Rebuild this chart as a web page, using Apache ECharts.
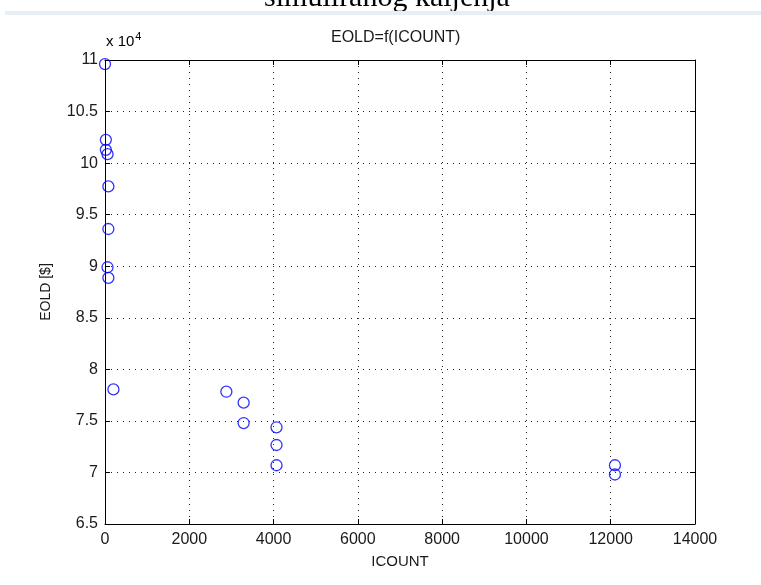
<!DOCTYPE html>
<html>
<head>
<meta charset="utf-8">
<script src="https://cdn.jsdelivr.net/npm/echarts@6/dist/echarts.min.js"></script>
<style>
  html, body { margin: 0; padding: 0; background: #fff; }
  #chart { width: 761px; height: 585px; }
</style>
</head>
<body>
<div id="chart"></div>
<script>
// values
const icount = [0, 20, 20, 60, 80, 80, 60, 80, 200, 2880, 3290, 3290, 4070, 4070, 4070, 12100, 12100]
const eold = [109600, 102260, 101290, 100870, 97740, 93610, 89900, 88870, 78050, 77830, 76770, 74790, 74380, 72660, 70700, 70700, 69800]
const xTicks = { min: 0, max: 14000, step: 2000 }
const yTicks = { min: 65000, max: 110000, step: 5000 }

const points = icount.map((x, i) => [x, eold[i]])

const FONT = 'Liberation Sans, Arial, sans-serif'
const INK = '#1a1a1a'

const boxAxis = {
  axisLine: { show: true, onZero: false, lineStyle: { color: '#000', width: 1 } },
  axisTick: { show: true, inside: true, length: 5, lineStyle: { color: '#000' } },
  axisLabel: { show: false },
  splitLine: { show: false }
}

const option = {
  backgroundColor: '#fff',
  animation: false,
  title: {
    text: 'EOLD=f(ICOUNT)',
    left: 331,
    top: 30,
    padding: 0,
    textStyle: { fontFamily: FONT, fontSize: 16, fontWeight: 'normal', color: INK }
  },
  grid: { left: 105, top: 60, width: 590, height: 464 },
  xAxis: [
    {
      type: 'value',
      min: xTicks.min,
      max: xTicks.max,
      interval: xTicks.step,
      name: 'ICOUNT',
      nameLocation: 'middle',
      nameGap: 30,
      nameTextStyle: { fontFamily: FONT, fontSize: 15, color: INK },
      axisLine: { show: true, onZero: false, lineStyle: { color: '#000', width: 1 } },
      axisTick: { show: true, inside: true, length: 5, lineStyle: { color: '#000' } },
      axisLabel: { fontFamily: FONT, fontSize: 16, color: INK, margin: 8, formatter: v => String(v) },
      splitLine: { show: true, lineStyle: { color: '#222', width: 1, type: [1, 5] } }
    },
    Object.assign({ type: 'value', position: 'top', min: xTicks.min, max: xTicks.max, interval: xTicks.step }, boxAxis)
  ],
  yAxis: [
    {
      type: 'value',
      min: yTicks.min,
      max: yTicks.max,
      interval: yTicks.step,
      name: 'EOLD [$]',
      nameLocation: 'middle',
      nameGap: 52,
      nameTextStyle: { fontFamily: FONT, fontSize: 14, color: INK },
      axisLine: { show: true, onZero: false, lineStyle: { color: '#000', width: 1 } },
      axisTick: { show: true, inside: true, length: 5, lineStyle: { color: '#000' } },
      axisLabel: {
        fontFamily: FONT, fontSize: 16, color: INK, margin: 7,
        formatter: v => String(v / 10000)
      },
      splitLine: { show: true, lineStyle: { color: '#222', width: 1, type: [1, 5] } }
    },
    Object.assign({ type: 'value', position: 'right', min: yTicks.min, max: yTicks.max, interval: yTicks.step }, boxAxis)
  ],
  series: [
    {
      type: 'scatter',
      data: points,
      symbol: 'circle',
      symbolSize: 11,
      itemStyle: { color: 'rgba(0,0,0,0)', borderColor: '#0000ff', borderWidth: 1.3 },
      emphasis: { disabled: true }
    }
  ],
  graphic: [
    {
      // caption of the page, cut off at the top
      type: 'text',
      x: 387,
      y: 13,
      style: {
        text: 'simuliranog kaljenja',
        font: '30px "Liberation Serif", "Times New Roman", serif',
        fill: '#000',
        align: 'center',
        verticalAlign: 'bottom'
      }
    },
    {
      type: 'rect',
      shape: { x: 5, y: 11, width: 756, height: 4 },
      style: { fill: '#e8eef6' },
      z: 10
    },
    {
      // exponent of the y axis
      type: 'text',
      x: 106,
      y: 52,
      style: {
        text: '{a|x 10}{b|4}',
        verticalAlign: 'bottom',
        rich: {
          a: { fontFamily: FONT, fontSize: 15, color: INK },
          b: { fontFamily: FONT, fontSize: 11, color: INK, verticalAlign: 'top', padding: [0, 0, 10, 1] }
        }
      }
    }
  ]
}

const myChart = echarts.init(document.getElementById('chart'), null, { renderer: 'canvas' })
myChart.setOption(option)
</script>
</body>
</html>
